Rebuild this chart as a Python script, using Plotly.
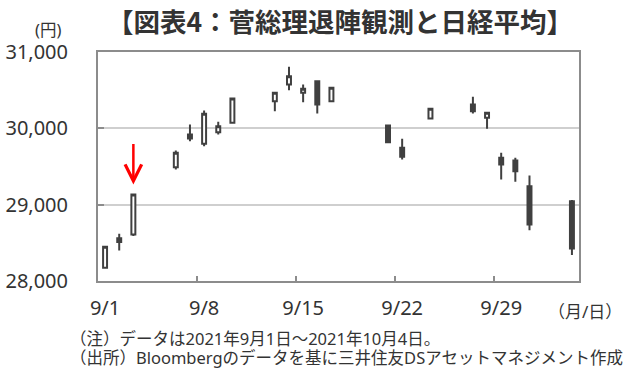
import plotly.graph_objects as go

# ---- data ----
dates = ["2021-09-01", "2021-09-02", "2021-09-03", "2021-09-06", "2021-09-07",
         "2021-09-08", "2021-09-09", "2021-09-10", "2021-09-13", "2021-09-14",
         "2021-09-15", "2021-09-16", "2021-09-17", "2021-09-21", "2021-09-22",
         "2021-09-24", "2021-09-27", "2021-09-28", "2021-09-29", "2021-09-30",
         "2021-10-01", "2021-10-04"]
opens = [28173, 28560, 28609, 29490, 29919, 29797, 29949, 30072, 30355, 30574,
         30465, 30617, 30355, 30037, 29745, 30128, 30312, 30138, 29614, 29578,
         29241, 29045]
highs = [28455, 28620, 29140, 29709, 30050, 30233, 30085, 30400, 30470, 30806,
         30574, 30630, 30544, 30050, 29862, 30268, 30413, 30210, 29679, 29614,
         29382, 29060]
lows = [28160, 28400, 28590, 29460, 29831, 29766, 29919, 30060, 30224, 30499,
        30342, 30194, 30342, 29810, 29591, 30115, 30194, 29993, 29329, 29299,
        28665, 28340]
closes = [28448, 28510, 29133, 29679, 29866, 30190, 30028, 30390, 30465, 30683,
          30517, 30312, 30531, 29818, 29627, 30255, 30224, 30203, 29526, 29438,
          28740, 28425]

tick_dates = ["2021-09-01", "2021-09-08", "2021-09-15", "2021-09-22", "2021-09-29"]
tick_text = ["9/1", "9/8", "9/15", "9/22", "9/29"]
boundary_ticks = ["2021-09-07 12:00", "2021-09-14 12:00", "2021-09-21 12:00", "2021-09-28 12:00"]
y_ticks = [28000, 29000, 30000, 31000]

arrow_date = "2021-09-03"
arrow_tip = 29264

title_text = "【図表4：菅総理退陣観測と日経平均】"
note1 = "（注）データは2021年9月1日～2021年10月4日。"
note2 = "（出所）Bloombergのデータを基に三井住友DSアセットマネジメント作成"

DARK = "#404040"
TXT = "#333333"
FONT = "Noto Sans, Noto Sans CJK JP"

W, H = 634, 388

fig = go.Figure()
fig.add_trace(go.Candlestick(
    x=dates, open=opens, high=highs, low=lows, close=closes,
    increasing=dict(line=dict(color=DARK, width=2), fillcolor="white"),
    decreasing=dict(line=dict(color=DARK, width=2), fillcolor=DARK),
    whiskerwidth=0, showlegend=False,
))

fig.add_annotation(
    x=arrow_date, y=arrow_tip, ax=0, ay=-42, text="", showarrow=True,
    arrowhead=5, arrowsize=1.3, arrowwidth=2.5, arrowcolor="#ff0000",
)

fig.update_layout(
    width=W, height=H,
    margin=dict(l=98, r=55, t=52, b=107),
    paper_bgcolor="white", plot_bgcolor="white",
    boxgap=0.6,
    font=dict(family=FONT, color=TXT),
    title=dict(text=title_text, x=340 / W, xanchor="center", xref="container",
               y=1 - 23 / H, yanchor="middle", yref="container",
               font=dict(family="Noto Sans CJK JP", size=26.5, color=TXT, weight="bold")),
    xaxis=dict(
        type="date", range=["2021-08-31 12:00", "2021-10-04 12:00"],
        rangeslider=dict(visible=False), automargin=False,
        tickmode="array", tickvals=tick_dates, ticktext=tick_text, ticks="",
        tickfont=dict(size=20, color=TXT),
        showgrid=False, showline=True, mirror=True, linecolor="#8c8c8c", linewidth=2,
        minor=dict(tickmode="array", tickvals=boundary_ticks, ticks="inside",
                   ticklen=5, tickcolor="#8c8c8c", tickwidth=1.5, showgrid=False),
        ticklabelstandoff=8,
    ),
    yaxis=dict(
        range=[28000, 31000], tickmode="array", tickvals=y_ticks, tickformat=",",
        tickfont=dict(size=20, color=TXT), automargin=False,
        ticks="inside", ticklen=6, tickcolor="#8c8c8c", tickwidth=1.5,
        showgrid=True, gridcolor="#cfcfcf", gridwidth=1.5,
        showline=True, mirror=True, linecolor="#8c8c8c", linewidth=2,
        zeroline=False, ticklabelstandoff=24,
    ),
)

fig.add_annotation(text="(円)", xref="paper", yref="paper", x=-50 / 481, y=1 + 23 / 229,
                   xanchor="center", yanchor="middle", showarrow=False,
                   font=dict(size=16.5, color=TXT))
fig.add_annotation(text="（月/日）", xref="paper", yref="paper", x=(585 - 98) / 481, y=-30 / 229,
                   xanchor="center", yanchor="middle", showarrow=False,
                   font=dict(size=17, color=TXT))
fig.add_annotation(text=note1, xref="paper", yref="paper", x=-30 / 481, y=-57 / 229,
                   xanchor="left", yanchor="middle", showarrow=False,
                   font=dict(size=16.5, color=TXT))
fig.add_annotation(text=note2, xref="paper", yref="paper", x=-30 / 481, y=-76 / 229,
                   xanchor="left", yanchor="middle", showarrow=False,
                   font=dict(size=16.5, color=TXT))

fig.write_html("out.html", config={"displayModeBar": False},
               post_script="document.body.style.margin='0';")
